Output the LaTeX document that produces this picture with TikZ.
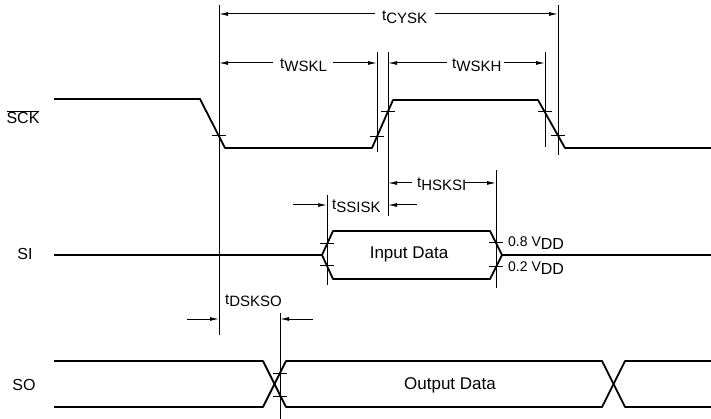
\documentclass[tikz,border=0pt]{standalone}
\usepackage{fontspec}
\setmainfont{Liberation Sans}
\usetikzlibrary{arrows.meta}
\begin{document}
\begin{tikzpicture}[x=1pt,y=-1pt,
  sig/.style={line width=1.8pt, line join=round},
  guide/.style={line width=1pt},
  dim/.style={line width=1pt, -{Latex[length=9pt,width=4pt]}},
  tck/.style={line width=1pt},
  siglbl/.style={font=\fontsize{16}{18}\selectfont, inner sep=0pt},
  datalbl/.style={font=\fontsize{17}{19}\selectfont, inner sep=0pt},
  tlbl/.style={font=\fontsize{15}{17}\selectfont, inner sep=0pt, anchor=base west},
  vlbl/.style={font=\fontsize{14}{16}\selectfont, inner sep=0pt, anchor=west}]
\newcommand{\tsub}[1]{t\raisebox{-2.5pt}{#1}}
\newcommand{\tk}[2]{\draw[tck] ({#1-7},#2) -- ({#1+7},#2);}
\useasboundingbox (0,0) rectangle (711,419);

% signal names
\node[siglbl] (sck) at (23,117) {$\overline{\mbox{SCK}}$};
\node[siglbl] (si) at (25,254) {SI};
\node[siglbl] (so) at (24,385) {SO};

% SCK waveform
\draw[sig] (54,99) -- (200,99) -- (225,148) -- (372,148) -- (393,100) -- (538,100) -- (565,148) -- (711,148);
\tk{219}{136} \tk{377}{137} \tk{388}{112} \tk{545}{112} \tk{558}{136}

% SI waveform
\draw[sig] (54,255) -- (322,255) -- (333,231) -- (490,231) -- (502,255) -- (711,255);
\draw[sig] (322,255) -- (333,279) -- (490,279) -- (502,255);
\tk{327}{244} \tk{327}{266} \tk{496}{243} \tk{496}{267}
\node[datalbl] (ind) at (409,254) {Input Data};
\node[vlbl] (v8) at (508,243) {0.8 V\raisebox{-3pt}{\fontsize{16}{18}\selectfont DD}};
\node[vlbl] (v2) at (508,268) {0.2 V\raisebox{-3pt}{\fontsize{16}{18}\selectfont DD}};

% SO waveform
\draw[sig] (54,361) -- (263,361) -- (286,407) -- (602,407) -- (625,361) -- (711,361);
\draw[sig] (54,407) -- (263,407) -- (286,361) -- (602,361) -- (625,407) -- (711,407);
\tk{280}{373} \tk{280}{396}
\node[datalbl] (outd) at (450,385) {Output Data};

% guide lines
\coordinate (g1t) at (219,5);   \coordinate (g1b) at (219,335);
\coordinate (g2t) at (377,52);  \coordinate (g2b) at (377,152);
\coordinate (g3t) at (388,52);  \coordinate (g3b) at (388,216);
\coordinate (g4t) at (545,52);  \coordinate (g4b) at (545,147);
\coordinate (g5t) at (558,5);   \coordinate (g5b) at (558,155);
\coordinate (g6t) at (496,170); \coordinate (g6b) at (496,288);
\coordinate (g7t) at (327,195); \coordinate (g7b) at (327,285);
\coordinate (g8t) at (280,313); \coordinate (g8b) at (280,419);
\foreach \g in {1,...,8} {\draw[guide] (g\g t) -- (g\g b);}

% tCYSK
\draw[dim] (375,14) -- (219,14);
\draw[dim] (435,14) -- (558,14);
\node[tlbl] (cysk) at (382,21) {\tsub{CYSK}};
% tWSKL
\draw[dim] (273,63) -- (219,63);
\draw[dim] (333,63) -- (377,63);
\node[tlbl] (wskl) at (280,69) {\tsub{WSKL}};
% tWSKH
\draw[dim] (447,63) -- (388,63);
\draw[dim] (504,63) -- (545,63);
\node[tlbl] (wskh) at (452,69) {\tsub{WSKH}};
% tHSKSI
\draw[dim] (412,183) -- (388,183);
\draw[dim] (465,183) -- (496,183);
\node[tlbl] (hsksi) at (417,188) {\tsub{HSKSI}};
% tSSISK
\draw[dim] (293,205) -- (327,205);
\draw[dim] (417,205) -- (388,205);
\node[tlbl] (ssisk) at (332,210) {\tsub{SSISK}};
% tDSKSO
\draw[dim] (187,319) -- (219,319);
\draw[dim] (313,319) -- (280,319);
\node[tlbl] (dskso) at (225,304) {\tsub{DSKSO}};
\end{tikzpicture}
\end{document}
